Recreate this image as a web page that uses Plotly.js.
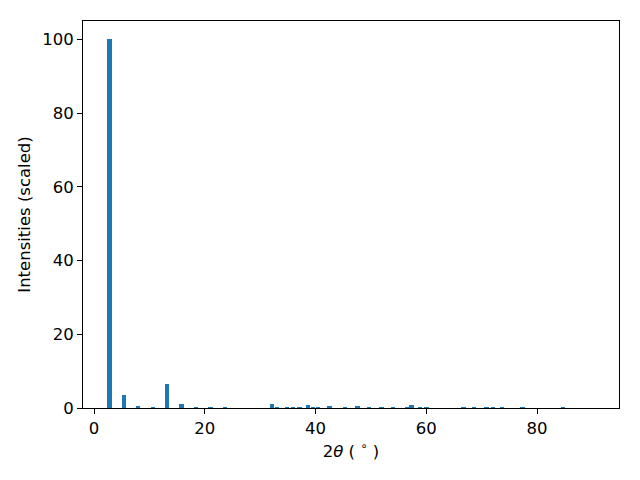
<!DOCTYPE html>
<html>
<head>
<meta charset="utf-8">
<script src="https://cdn.plot.ly/plotly-3.0.1.min.js"></script>
<style>html,body{margin:0;padding:0;background:#fff;}#chart{width:640px;height:480px;}</style>
</head>
<body>
<div id="chart"></div>
<script>
const twoTheta = [2.8, 5.4, 7.9, 10.6, 13.2, 15.8, 18.4, 21.0, 23.6, 32.1, 33.0, 34.8, 35.9, 37.1, 38.6, 39.5, 40.4, 42.5, 45.3, 47.6, 49.6, 51.9, 54.0, 56.5, 57.3, 58.9, 60.0, 66.7, 68.6, 70.9, 72.0, 73.7, 77.4, 84.7];
const intensities = [100, 3.4, 0.5, 0.3, 6.4, 1.2, 0.3, 0.4, 0.3, 1.2, 0.3, 0.2, 0.2, 0.2, 0.7, 0.3, 0.3, 0.5, 0.2, 0.5, 0.3, 0.2, 0.3, 0.4, 0.8, 0.3, 0.3, 0.3, 0.3, 0.3, 0.3, 0.3, 0.3, 0.3];
const xTicks = [0, 20, 40, 60, 80];
const yTicks = [0, 20, 40, 60, 80, 100];

const font = {family: 'DejaVu Sans', size: 16.5, color: '#000'};
Plotly.newPlot('chart', [{
  type: 'bar',
  x: twoTheta,
  y: intensities,
  width: 0.8,
  marker: {color: '#1f77b4', line: {width: 0}}
}], {
  width: 640, height: 480,
  margin: {l: 83, r: 21, t: 21, b: 72, pad: 0},
  paper_bgcolor: '#fff', plot_bgcolor: '#fff',
  font: font,
  showlegend: false,
  bargap: 0,
  xaxis: {
    range: [-2.0, 94.8],
    tickvals: xTicks, ticktext: xTicks.map(String),
    ticks: 'outside', ticklen: 5, tickwidth: 1, tickcolor: '#000',
    showline: true, mirror: true, linecolor: '#000', linewidth: 1,
    showgrid: false, zeroline: false,
    tickfont: font,
    title: {text: '2<i>θ</i> ( <sup>∘</sup> )', font: font, standoff: 8}
  },
  yaxis: {
    range: [0, 105],
    tickvals: yTicks, ticktext: yTicks.map(String),
    ticks: 'outside', ticklen: 5, tickwidth: 1, tickcolor: '#000',
    showline: true, mirror: true, linecolor: '#000', linewidth: 1,
    showgrid: false, zeroline: false,
    tickfont: font,
    title: {text: 'Intensities (scaled)', font: font, standoff: 7}
  }
}, {displayModeBar: false, staticPlot: true});
</script>
</body>
</html>
